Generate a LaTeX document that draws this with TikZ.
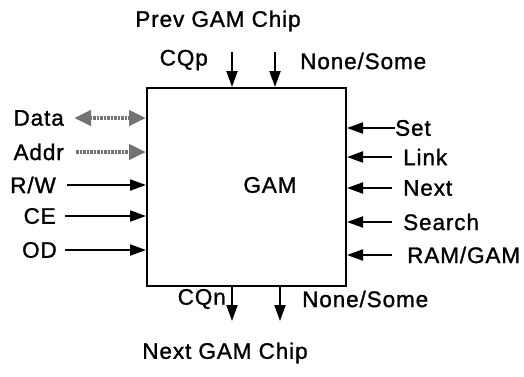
\documentclass[tikz,border=0pt]{standalone}
\usepackage{fontspec}
\setmainfont{Liberation Sans}[LetterSpace=4, FakeBold=1.2]
\usepackage{tikz}
\usetikzlibrary{arrows.meta, calc}
\tikzset{
  gam@box/.style={draw, line width=2pt, minimum width=199pt, minimum height=198pt, inner sep=0pt},
  gam@txt/.style={font=\fontsize{22.5}{26}\selectfont, inner sep=0pt},
  gam@arr/.style={-{Triangle[length=16pt, width=11pt]}, line width=2pt},
  gam@bus/.style={line width=4.5pt, black!55, dash pattern=on 2.5pt off 1pt,
    {Triangle[length=17pt, width=15pt]}-{Triangle[length=17pt, width=15pt]}},
  gam@bus1/.style={line width=4.5pt, black!55, dash pattern=on 2.5pt off 1pt,
    -{Triangle[length=17pt, width=15pt]}},
}
\begin{document}
\begin{tikzpicture}[x=1pt, y=-1pt]
  \useasboundingbox (0,0) rectangle (524,376);

  \node[gam@box] (gam) at (246.5,187) {};
  \node[gam@txt] (gamlbl) at (270,185) {GAM};

  % top side
  \node[gam@txt] (prev) at (218,21) {Prev GAM Chip};
  \node[gam@txt, anchor=east] (cqp) at (208,60) {CQp};
  \node[gam@txt, anchor=west] (nsin) at (300,61) {None/Some};
  \coordinate (cqpin) at (232,52);
  \coordinate (nsintop) at (275,52);
  \draw[gam@arr] (cqpin) -- (cqpin |- gam.north);
  \draw[gam@arr] (nsintop) -- (nsintop |- gam.north);

  % bottom side
  \node[gam@txt, anchor=east] (cqn) at (226,299) {CQn};
  \node[gam@txt, anchor=west] (nsout) at (302,299) {None/Some};
  \node[gam@txt] (next) at (225,353) {Next GAM Chip};
  \coordinate (cqnout) at (232,321);
  \coordinate (nsoutbot) at (280,321);
  \draw[gam@arr] (cqnout |- gam.south) -- (cqnout);
  \draw[gam@arr] (nsoutbot |- gam.south) -- (nsoutbot);

  % left side
  \node[gam@txt, anchor=east] (data) at (64,118) {Data};
  \node[gam@txt, anchor=east] (addr) at (64,152) {Addr};
  \node[gam@txt, anchor=east] (rw)   at (56,185) {R/W};
  \node[gam@txt, anchor=east] (ce)   at (56,216) {CE};
  \node[gam@txt, anchor=east] (od)   at (57,250) {OD};
  \draw[gam@bus]  ([xshift=10pt]data.east) -- (data.east -| gam.west);
  \draw[gam@bus1] ([xshift=12pt]addr.east) -- (addr.east -| gam.west);
  \draw[gam@arr]  ([xshift=11pt]rw.east) -- (rw.east -| gam.west);
  \draw[gam@arr]  ([xshift=9pt]ce.east) -- (ce.east -| gam.west);
  \draw[gam@arr]  ([xshift=8pt]od.east) -- (od.east -| gam.west);

  % right side
  \node[gam@txt, anchor=west] (set)    at (395,128) {Set};
  \node[gam@txt, anchor=west] (link)   at (403,157) {Link};
  \node[gam@txt, anchor=west] (nxt)    at (403,188) {Next};
  \node[gam@txt, anchor=west] (search) at (403,222) {Search};
  \node[gam@txt, anchor=west] (ramgam) at (407,255) {RAM/GAM};
  \draw[gam@arr] (set.west) -- (set.west -| gam.east);
  \draw[gam@arr] ([xshift=-11pt]link.west) -- (link.west -| gam.east);
  \draw[gam@arr] ([xshift=-11pt]nxt.west) -- (nxt.west -| gam.east);
  \draw[gam@arr] ([xshift=-11pt]search.west) -- (search.west -| gam.east);
  \draw[gam@arr] ([xshift=-15pt]ramgam.west) -- (ramgam.west -| gam.east);
\end{tikzpicture}
\end{document}
